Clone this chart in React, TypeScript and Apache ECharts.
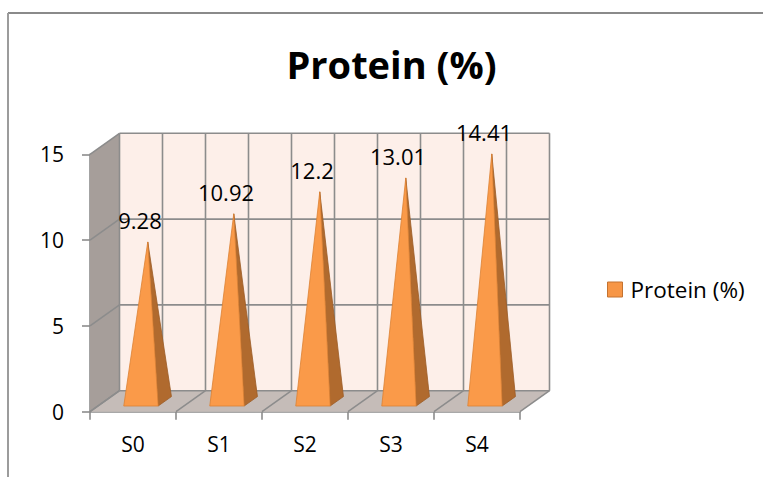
import React, { useEffect, useRef } from "react";
import * as echarts from "echarts";

// Chart data
const categories = ["S0", "S1", "S2", "S3", "S4"];
const proteinValues = [9.28, 10.92, 12.2, 13.01, 14.41];
const seriesName = "Protein (%)";
const yMin = 0;
const yMax = 15;
const yInterval = 5;
const yTicks = [0, 5, 10, 15];

// Projection of the 3D depth axis onto the screen (px)
const DX = 29.5;
const DY = -21;

const FONT = "'Open Sans', Lato, 'DejaVu Sans', sans-serif";

function wallsRenderItem(params: any, api: any) {
  const cs = params.coordSys;
  const x0 = cs.x;
  const x1 = cs.x + cs.width;
  const yTop = cs.y;
  const yBot = cs.y + cs.height;
  const gridLine = { stroke: "#8c8c8c", lineWidth: 1.6, fill: null };
  const children: any[] = [];

  // back wall
  children.push({
    type: "polygon",
    shape: { points: [[x0 + DX, yTop + DY], [x1 + DX, yTop + DY], [x1 + DX, yBot + DY], [x0 + DX, yBot + DY]] },
    style: { fill: "#fdefe9" },
  });
  // side wall
  children.push({
    type: "polygon",
    shape: { points: [[x0, yTop], [x0 + DX, yTop + DY], [x0 + DX, yBot + DY], [x0, yBot]] },
    style: { fill: "#a69e9a" },
  });
  // floor
  children.push({
    type: "polygon",
    shape: { points: [[x0, yBot], [x1, yBot], [x1 + DX, yBot + DY], [x0 + DX, yBot + DY]] },
    style: { fill: "#c5bcb8" },
  });

  // horizontal gridlines on the back wall + diagonals on the side wall
  yTicks.forEach((t) => {
    const y = api.coord([0, t])[1];
    children.push({ type: "line", shape: { x1: x0 + DX, y1: y + DY, x2: x1 + DX, y2: y + DY }, style: gridLine });
    children.push({ type: "line", shape: { x1: x0, y1: y, x2: x0 + DX, y2: y + DY }, style: gridLine });
  });

  // vertical gridlines on the back wall (boundaries and centres)
  const n = categories.length * 2;
  for (let k = 0; k <= n; k++) {
    const x = x0 + DX + (k * cs.width) / n;
    children.push({ type: "line", shape: { x1: x, y1: yTop + DY, x2: x, y2: yBot + DY }, style: gridLine });
  }

  // floor diagonals at category boundaries
  for (let k = 0; k <= categories.length; k++) {
    const x = x0 + (k * cs.width) / categories.length;
    children.push({ type: "line", shape: { x1: x, y1: yBot, x2: x + DX, y2: yBot + DY }, style: gridLine });
  }

  return { type: "group", children };
}

function pyramidRenderItem(params: any, api: any) {
  const idx = api.value(0);
  const v = api.value(1);
  const base = api.coord([idx, 0]);
  const top = api.coord([idx, v]);
  const bw = api.size([1, 0])[0];
  const hw = bw * 0.2;
  const dF = 0.27;
  const dB = 0.72;
  const dA = 0.5;

  const fl = [base[0] - hw + dF * DX, base[1] + dF * DY];
  const fr = [base[0] + hw + dF * DX, base[1] + dF * DY];
  const br = [base[0] + hw + dB * DX, base[1] + dB * DY];
  const apex = [base[0] + dA * DX, top[1] + dA * DY];

  return {
    type: "group",
    children: [
      {
        type: "polygon",
        shape: { points: [fr, br, apex] },
        style: { fill: "#b06a2e", stroke: "#9c5c26", lineWidth: 0.8 },
      },
      {
        type: "polygon",
        shape: { points: [fl, fr, apex] },
        style: { fill: "#fa9a49", stroke: "#dc8233", lineWidth: 0.8 },
      },
      {
        type: "text",
        x: base[0] + 7,
        y: apex[1] - 22,
        style: {
          text: String(v),
          fill: "#000",
          font: `22px ${FONT}`,
          textAlign: "center",
          textVerticalAlign: "middle",
        },
      },
    ],
  };
}

export default function App() {
  const ref = useRef<HTMLDivElement>(null);

  useEffect(() => {
    if (!ref.current) return;
    const chart = echarts.init(ref.current, null, { renderer: "svg" });
    chart.setOption({
      animation: false,
      backgroundColor: "#ffffff",
      grid: { left: 90, top: 154.3, width: 430, height: 257.4, containLabel: false },
      legend: {
        data: [{ name: seriesName, icon: "rect" }],
        left: 602,
        top: 273,
        itemWidth: 15,
        itemHeight: 15,
        itemStyle: { borderColor: "#c47330", borderWidth: 1 },
        textStyle: { fontSize: 22.5, fontFamily: FONT, color: "#000", padding: [0, 0, 0, 3] },
      },
      xAxis: {
        type: "category",
        data: categories,
        boundaryGap: true,
        axisLine: { lineStyle: { color: "#8c8c8c", width: 1.6 } },
        axisTick: { show: true, length: 8, lineStyle: { color: "#8c8c8c", width: 1.6 } },
        axisLabel: { fontSize: 21, fontFamily: FONT, color: "#000", margin: 22 },
        splitLine: { show: false },
      },
      yAxis: {
        type: "value",
        min: yMin,
        max: yMax,
        interval: yInterval,
        axisLine: { show: true, lineStyle: { color: "#8c8c8c", width: 1.6 } },
        axisTick: { show: true, length: 8, lineStyle: { color: "#8c8c8c", width: 1.6 } },
        axisLabel: { fontSize: 21, fontFamily: FONT, color: "#000", margin: 26 },
        splitLine: { show: false },
      },
      graphic: [
        {
          type: "line",
          shape: { x1: 8, y1: 13, x2: 763, y2: 13 },
          style: { stroke: "#8a8a8a", lineWidth: 2 },
        },
        {
          type: "line",
          shape: { x1: 8, y1: 13, x2: 8, y2: 477 },
          style: { stroke: "#9c9c9c", lineWidth: 2 },
        },
        {
          type: "text",
          x: 391.5,
          y: 64,
          style: {
            text: "Protein (%)",
            fill: "#000",
            font: `bold 38px ${FONT}`,
            textAlign: "center",
            textVerticalAlign: "middle",
          },
        },
      ],
      series: [
        {
          name: "walls",
          type: "custom",
          renderItem: wallsRenderItem,
          data: [[0, 0]],
          z: 1,
          silent: true,
        },
        {
          name: seriesName,
          type: "custom",
          renderItem: pyramidRenderItem,
          encode: { x: 0, y: 1 },
          data: proteinValues.map((v, i) => [i, v]),
          itemStyle: { color: "#f79646" },
          z: 2,
        },
      ],
    });
    return () => chart.dispose();
  }, []);

  return (
    <div
      ref={ref}
      style={{ position: "absolute", left: 0, top: 0, width: 763, height: 477 }}
    />
  );
}
